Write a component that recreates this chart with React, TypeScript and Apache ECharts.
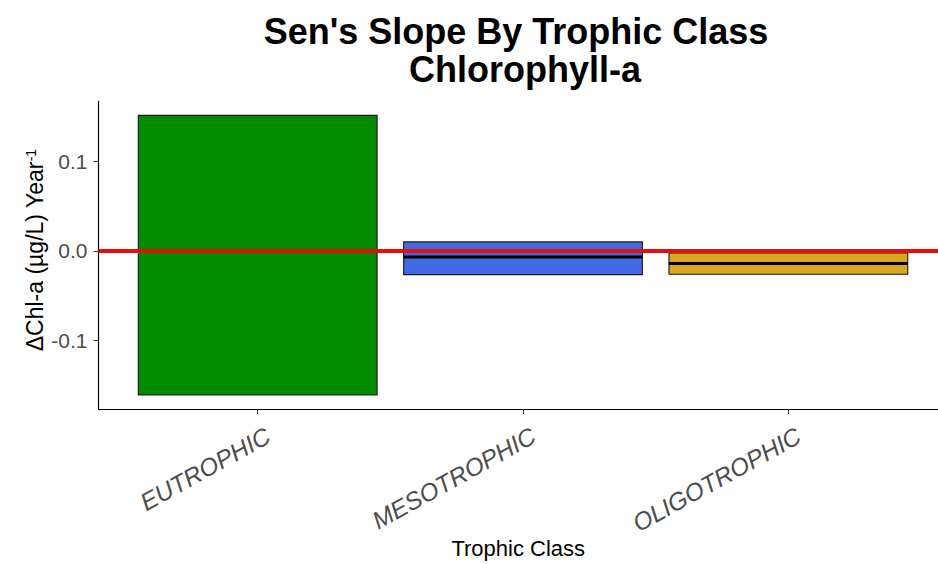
import React, { useEffect, useRef } from "react";
import * as echarts from "echarts";

const categories = ["EUTROPHIC", "MESOTROPHIC", "OLIGOTROPHIC"];
const lowerValues = [-0.1613, -0.0265, -0.0262];
const upperValues = [0.1517, 0.0101, -0.0022];
const medianValues = [0.0, -0.0067, -0.0142];
const fillColors = ["#008B00", "#4169E1", "#DAA520"];
const yTickValues = [-0.1, 0, 0.1];
const referenceValue = 0;

const FONT = "'Liberation Sans', Arial, sans-serif";

export default function App() {
  const ref = useRef<HTMLDivElement>(null);
  useEffect(() => {
    if (!ref.current) return;
    const chart = echarts.init(ref.current, null, { renderer: "svg" });
    const data = categories.map((c, i) => [i + 1, lowerValues[i], upperValues[i], medianValues[i]]);
    const tickPositions = categories.map((c, i) => i + 1);
    const labelShift = 0.04;
    const labelPositions = tickPositions.map((p) => p + labelShift);
    const halfWidth = 0.45;
    chart.setOption({
      animation: false,
      backgroundColor: "#ffffff",
      textStyle: { fontFamily: FONT },
      graphic: [
        {
          type: "text",
          x: 516,
          y: 31,
          style: {
            text: "Sen's Slope By Trophic Class",
            fontSize: 36,
            fontWeight: "bold",
            fontFamily: FONT,
            fill: "#000",
            textAlign: "center",
            textVerticalAlign: "middle",
          },
        },
        {
          type: "text",
          x: 525,
          y: 69,
          style: {
            text: "Chlorophyll-a",
            fontSize: 36,
            fontWeight: "bold",
            fontFamily: FONT,
            fill: "#000",
            textAlign: "center",
            textVerticalAlign: "middle",
          },
        },
      ],
      grid: {
        left: 98.5,
        top: 101.4,
        right: 0,
        bottom: 155,
        outerBoundsMode: "none",
        containLabel: false,
      },
      xAxis: {
        type: "value",
        min: 0.4,
        max: 3.564,
        splitLine: { show: false },
        axisLine: { onZero: false, lineStyle: { color: "#000", width: 1.2 } },
        axisTick: { customValues: tickPositions, length: 5, lineStyle: { color: "#333" } },
        axisLabel: {
          customValues: labelPositions,
          formatter: (v: number) => categories[Math.round(v) - 1] ?? "",
          rotate: 29,
          margin: 25,
          fontSize: 24.5,
          fontStyle: "italic",
          color: "#4D4D4D",
          fontFamily: FONT,
        },
        name: "Trophic Class",
        nameLocation: "middle",
        nameMoveOverlap: false,
        nameGap: 128,
        nameTextStyle: { fontSize: 22, color: "#000", fontFamily: FONT },
      },
      yAxis: {
        type: "value",
        min: -0.17695,
        max: 0.16735,
        splitLine: { show: false },
        axisLine: { show: true, onZero: false, lineStyle: { color: "#000", width: 1.2 } },
        axisTick: { show: true, customValues: yTickValues, length: 5, lineStyle: { color: "#333" } },
        axisLabel: {
          customValues: yTickValues,
          formatter: (v: number) => v.toFixed(1),
          fontSize: 21,
          margin: 11,
          color: "#4D4D4D",
          fontFamily: FONT,
        },
        name: "ΔChl-a (µg/L) Year{sup|-1}",
        nameLocation: "middle",
        nameRotate: 90,
        nameMoveOverlap: false,
        nameGap: 52,
        nameTextStyle: {
          fontSize: 23,
          color: "#000",
          fontFamily: FONT,
          padding: [0, 0, 0, 10],
          rich: {
            sup: { fontSize: 14, verticalAlign: "top", color: "#000", fontFamily: FONT },
          },
        },
      },
      series: [
        {
          type: "custom",
          data,
          encode: { x: 0, y: [1, 2, 3] },
          z: 2,
          renderItem: (params: any, api: any) => {
            const x = api.value(0);
            const lo = api.value(1);
            const hi = api.value(2);
            const mid = api.value(3);
            const p1 = api.coord([x - halfWidth, hi]);
            const p2 = api.coord([x + halfWidth, lo]);
            const m1 = api.coord([x - halfWidth, mid]);
            const m2 = api.coord([x + halfWidth, mid]);
            return {
              type: "group",
              children: [
                {
                  type: "rect",
                  shape: { x: p1[0], y: p1[1], width: p2[0] - p1[0], height: p2[1] - p1[1] },
                  style: { fill: fillColors[params.dataIndex], stroke: "#1a1a1a", lineWidth: 1.1 },
                },
                {
                  type: "line",
                  shape: { x1: m1[0], y1: m1[1], x2: m2[0], y2: m2[1] },
                  style: { stroke: "#000", lineWidth: 3 },
                },
              ],
            };
          },
        },
        {
          type: "line",
          data: [],
          z: 5,
          silent: true,
          markLine: {
            silent: true,
            symbol: ["none", "none"],
            label: { show: false },
            lineStyle: { color: "#E0110F", width: 4, type: "solid" },
            data: [{ yAxis: referenceValue }],
          },
        },
      ],
    });
    return () => chart.dispose();
  }, []);
  return (
    <div
      ref={ref}
      style={{ position: "fixed", left: 0, top: 0, width: 938, height: 564, background: "#fff" }}
    />
  );
}
